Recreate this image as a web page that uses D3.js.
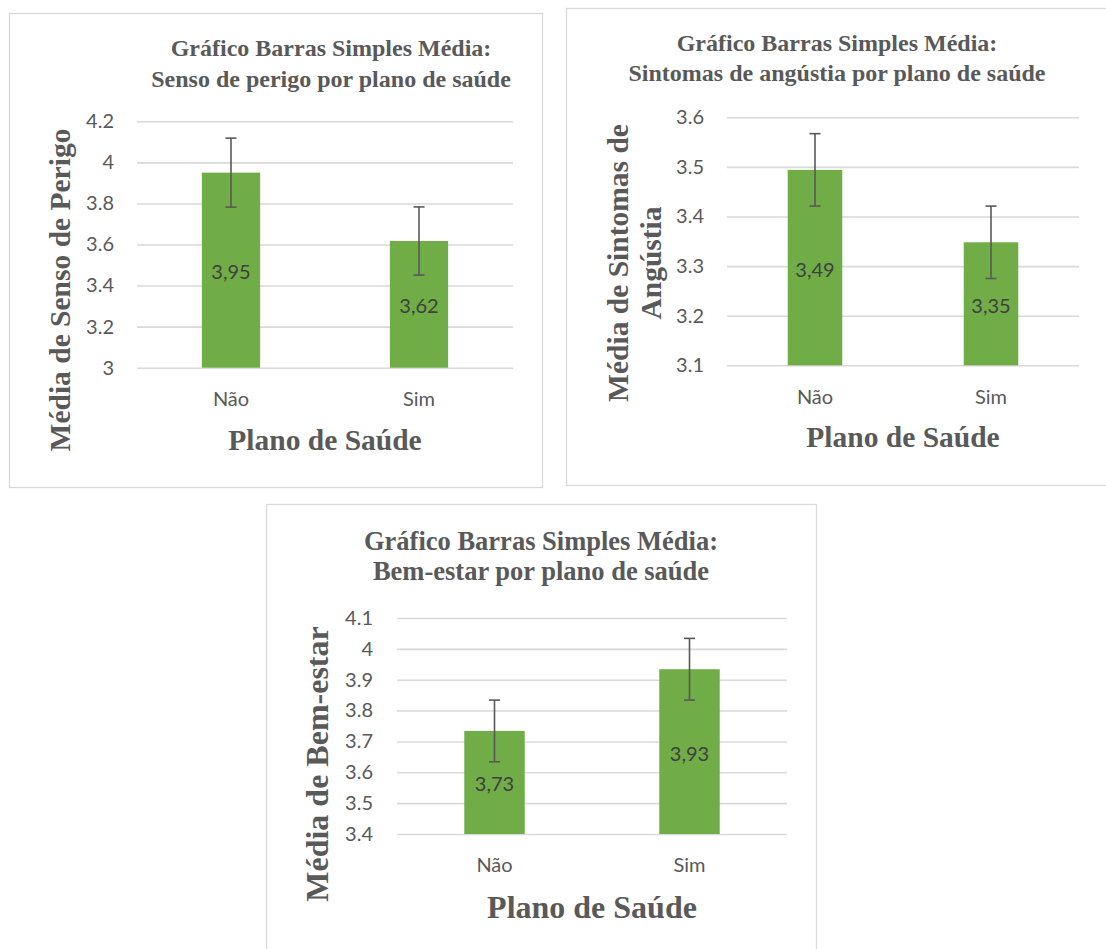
<!DOCTYPE html>
<html>
<head>
<meta charset="utf-8">
<script src="https://cdn.jsdelivr.net/npm/d3@7"></script>
<style>
  html, body { margin: 0; padding: 0; background: #fff; }
  svg { display: block; }
</style>
</head>
<body>
<svg id="chart" width="1106" height="949"></svg>
<script>
// ---------- data ----------
const categories = ["Não", "Sim"];

const sensoMeans = [3.95, 3.617];
const sensoErrors = [0.168, 0.166];
const sensoTicks = [3, 3.2, 3.4, 3.6, 3.8, 4, 4.2];

const sintomasMeans = [3.494, 3.348];
const sintomasErrors = [0.073, 0.073];
const sintomasTicks = [3.1, 3.2, 3.3, 3.4, 3.5, 3.6];

const bemEstarMeans = [3.734, 3.934];
const bemEstarErrors = [0.1, 0.1];
const bemEstarTicks = [3.4, 3.5, 3.6, 3.7, 3.8, 3.9, 4, 4.1];

const titles1 = ["Gráfico Barras Simples Média:", "Senso de perigo por plano de saúde"];
const titles2 = ["Gráfico Barras Simples Média:", "Sintomas de angústia por plano de saúde"];
const titles3 = ["Gráfico Barras Simples Média:", "Bem-estar por plano de saúde"];
const yTitle1 = ["Média de Senso de Perigo"];
const yTitle2 = ["Média de Sintomas de", "Angústia"];
const yTitle3 = ["Média de Bem-estar"];
const xTitle = "Plano de Saúde";

// ---------- styling ----------
const GREEN = "#70AD47";
const GRID = "#D9D9D9";
const TXT = "#595959";
const LABEL = "#404040";
const SERIF = "'Liberation Serif', 'Times New Roman', serif";
const SANS = "Lato, 'Open Sans', sans-serif";

const svg = d3.select("#chart");

function drawChart(cfg) {
  const g = svg.append("g");
  // panel border
  g.append("rect")
    .attr("x", cfg.panel[0] + 0.5).attr("y", cfg.panel[1] + 0.5)
    .attr("width", cfg.panel[2] - cfg.panel[0]).attr("height", cfg.panel[3] - cfg.panel[1])
    .attr("fill", "#fff").attr("stroke", GRID).attr("stroke-width", 1.3);

  const x = d3.scaleBand().domain(categories).range([cfg.plot.left, cfg.plot.right]).padding(0);
  const y = d3.scaleLinear().domain(cfg.domain).range([cfg.plot.bottom, cfg.plot.top]);

  // grid lines + y tick labels
  const yAxis = d3.axisLeft(y).tickValues(cfg.ticks).tickSize(-(cfg.plot.right - cfg.plot.left))
    .tickPadding(cfg.plot.left - cfg.labelRight).tickFormat(d3.format("~g"));
  const ya = g.append("g").attr("transform", `translate(${cfg.plot.left},0)`).call(yAxis);
  ya.select(".domain").remove();
  ya.selectAll(".tick line").attr("stroke", GRID).attr("stroke-width", 1.6);
  ya.selectAll(".tick text").attr("fill", TXT).style("font-family", SANS).style("font-size", "20px");

  // x axis labels
  const xAxis = d3.axisBottom(x).tickSize(0).tickPadding(cfg.xLabelY - cfg.plot.bottom - 7);
  const xa = g.append("g").attr("transform", `translate(0,${cfg.plot.bottom})`).call(xAxis);
  xa.select(".domain").remove();
  xa.selectAll(".tick text").attr("fill", TXT).style("font-family", SANS).style("font-size", "20px");

  const bw = x.bandwidth() * 0.31;
  const data = categories.map((c, i) => ({ c, v: cfg.means[i], e: cfg.errors[i] }));

  g.selectAll("rect.bar").data(data).enter().append("rect")
    .attr("class", "bar")
    .attr("x", d => x(d.c) + x.bandwidth() / 2 - bw / 2)
    .attr("width", bw)
    .attr("y", d => y(d.v))
    .attr("height", d => y(cfg.domain[0]) - y(d.v))
    .attr("fill", GREEN);

  // value labels
  g.selectAll("text.val").data(data).enter().append("text")
    .attr("class", "val")
    .attr("x", d => x(d.c) + x.bandwidth() / 2)
    .attr("y", d => (y(d.v) + y(cfg.domain[0])) / 2 + 1)
    .attr("text-anchor", "middle").attr("dominant-baseline", "central")
    .attr("fill", LABEL).style("font-family", SANS).style("font-size", "20px")
    .text(d => d.v.toFixed(2).replace(".", ","));

  // error bars
  const eg = g.selectAll("g.err").data(data).enter().append("g").attr("class", "err")
    .attr("stroke", "#595959").attr("stroke-width", 1.6);
  const cx = d => x(d.c) + x.bandwidth() / 2;
  eg.append("line").attr("x1", cx).attr("x2", cx).attr("y1", d => y(d.v + d.e)).attr("y2", d => y(d.v - d.e));
  eg.append("line").attr("x1", d => cx(d) - 5.5).attr("x2", d => cx(d) + 5.5).attr("y1", d => y(d.v + d.e)).attr("y2", d => y(d.v + d.e));
  eg.append("line").attr("x1", d => cx(d) - 5.5).attr("x2", d => cx(d) + 5.5).attr("y1", d => y(d.v - d.e)).attr("y2", d => y(d.v - d.e));

  // chart title
  g.append("text").attr("text-anchor", "middle")
    .attr("fill", TXT).style("font-family", SERIF).style("font-weight", "bold").style("font-size", cfg.titleSize + "px")
    .selectAll("tspan").data(cfg.title).enter().append("tspan")
    .attr("x", cfg.titleX).attr("y", (d, i) => cfg.titleY + i * cfg.titleGap)
    .text(d => d);

  // y title
  const yt = g.append("text").attr("text-anchor", "middle")
    .attr("transform", `translate(${cfg.yTitleX},${cfg.yTitleY}) rotate(-90)`)
    .attr("fill", TXT).style("font-family", SERIF).style("font-weight", "bold").style("font-size", cfg.axisTitleSize + "px");
  const n = cfg.yTitle.length;
  yt.selectAll("tspan").data(cfg.yTitle).enter().append("tspan")
    .attr("x", 0).attr("y", (d, i) => (i - (n - 1) / 2) * 33)
    .attr("dy", "0.35em")
    .text(d => d);

  // x title
  g.append("text").attr("text-anchor", "middle")
    .attr("x", (cfg.plot.left + cfg.plot.right) / 2).attr("y", cfg.xTitleY).attr("dy", "0.35em")
    .attr("fill", TXT).style("font-family", SERIF).style("font-weight", "bold").style("font-size", cfg.axisTitleSize + "px")
    .text(xTitle);
}

drawChart({
  panel: [9, 13, 542, 487],
  plot: { left: 137, right: 513, top: 121.3, bottom: 367.7 },
  labelRight: 114,
  domain: [3, 4.2], ticks: sensoTicks,
  means: sensoMeans, errors: sensoErrors,
  title: titles1, titleX: 331, titleY: 56, titleGap: 31, titleSize: 24,
  yTitle: yTitle1, yTitleX: 60, yTitleY: 290, axisTitleSize: 29.5,
  xLabelY: 399, xTitleY: 440
});

drawChart({
  panel: [566, 8, 1112, 485],
  plot: { left: 727, right: 1079, top: 117.3, bottom: 365.3 },
  labelRight: 704,
  domain: [3.1, 3.6], ticks: sintomasTicks,
  means: sintomasMeans, errors: sintomasErrors,
  title: titles2, titleX: 837, titleY: 51, titleGap: 29.5, titleSize: 24,
  yTitle: yTitle2, yTitleX: 634, yTitleY: 263, axisTitleSize: 29.5,
  xLabelY: 397, xTitleY: 437
});

drawChart({
  panel: [266, 504, 816, 960],
  plot: { left: 397, right: 787, top: 618, bottom: 834 },
  labelRight: 373,
  domain: [3.4, 4.1], ticks: bemEstarTicks,
  means: bemEstarMeans, errors: bemEstarErrors,
  title: titles3, titleX: 541, titleY: 550, titleGap: 30, titleSize: 26.5,
  yTitle: yTitle3, yTitleX: 317, yTitleY: 764, axisTitleSize: 32,
  xLabelY: 865, xTitleY: 907
});
</script>
</body>
</html>
